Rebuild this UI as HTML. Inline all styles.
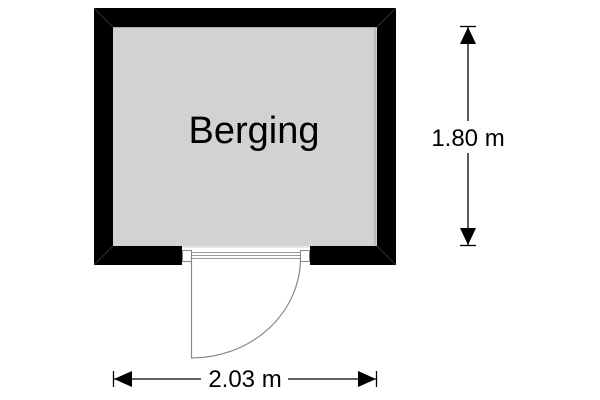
<!DOCTYPE html>
<html><head><meta charset="utf-8"><style>
html,body{margin:0;padding:0;background:#fff;width:600px;height:400px;overflow:hidden}
svg{display:block}
text{font-family:"Liberation Sans",sans-serif;fill:#000}
</style></head><body>
<svg width="600" height="400" viewBox="0 0 600 400" xmlns="http://www.w3.org/2000/svg">
<rect x="94" y="8" width="302" height="257" fill="#000"/>
<rect x="113" y="27" width="264" height="219" fill="#d2d2d2"/>
<line x1="375" y1="28" x2="375" y2="245" stroke="#bbb" stroke-width="2"/>
<line x1="113" y1="27.5" x2="377" y2="27.5" stroke="#aaa" stroke-width="1"/>
<line x1="94" y1="8" x2="113" y2="27" stroke="#444" stroke-width="0.7"/>
<line x1="396" y1="8" x2="377" y2="27" stroke="#444" stroke-width="0.7"/>
<line x1="94" y1="265" x2="113" y2="246" stroke="#444" stroke-width="0.7"/>
<line x1="396" y1="265" x2="377" y2="246" stroke="#444" stroke-width="0.7"/>
<rect x="182" y="246" width="128" height="19" fill="#fff"/>
<rect x="182.5" y="250.5" width="9" height="11" fill="#fff" stroke="#888" stroke-width="1"/>
<rect x="300.5" y="250.5" width="9" height="11" fill="#fff" stroke="#888" stroke-width="1"/>
<line x1="192" y1="252.5" x2="300" y2="252.5" stroke="#999" stroke-width="1"/>
<line x1="192" y1="255.5" x2="300" y2="255.5" stroke="#999" stroke-width="1"/>
<line x1="192" y1="258.5" x2="300" y2="258.5" stroke="#999" stroke-width="1"/>
<line x1="182" y1="247" x2="310" y2="247" stroke="#ccc" stroke-width="1"/>
<path d="M191.5 258 L191.5 358 A109 100 0 0 0 300.5 258" fill="none" stroke="#888" stroke-width="1.2"/>
<text x="254" y="143" font-size="38" text-anchor="middle">Berging</text>
<line x1="468" y1="27" x2="468" y2="121" stroke="#000" stroke-width="1.3"/>
<line x1="468" y1="153" x2="468" y2="245" stroke="#000" stroke-width="1.3"/>
<line x1="460" y1="26.5" x2="476" y2="26.5" stroke="#000" stroke-width="1.3"/>
<line x1="460" y1="245.5" x2="476" y2="245.5" stroke="#000" stroke-width="1.3"/>
<polygon points="468,27 460,44 476,44" fill="#000"/>
<polygon points="468,245 460,228 476,228" fill="#000"/>
<text x="468" y="146" font-size="24" text-anchor="middle">1.80 m</text>
<line x1="113" y1="379" x2="201" y2="379" stroke="#000" stroke-width="1.3"/>
<line x1="288" y1="379" x2="377" y2="379" stroke="#000" stroke-width="1.3"/>
<line x1="113.5" y1="371" x2="113.5" y2="387" stroke="#000" stroke-width="1.3"/>
<line x1="376.5" y1="371" x2="376.5" y2="387" stroke="#000" stroke-width="1.3"/>
<polygon points="114,379 132,371 132,387" fill="#000"/>
<polygon points="376,379 358,371 358,387" fill="#000"/>
<text x="245" y="387" font-size="24" text-anchor="middle">2.03 m</text>
</svg>
</body></html>
